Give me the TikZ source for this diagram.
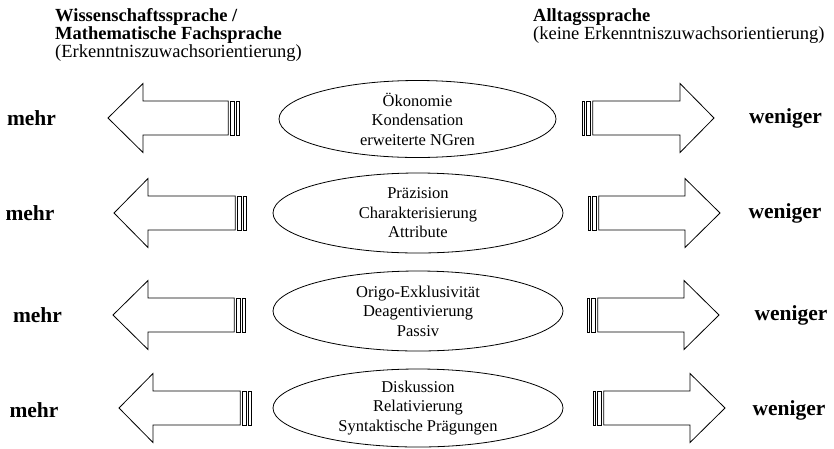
\documentclass[tikz,border=0pt]{standalone}
\usepackage{fontspec}
\setmainfont{Liberation Serif}
\usetikzlibrary{shapes.geometric}

\tikzset{
  arrowline/.style={draw=black, line width=0.8pt, fill=white, line join=miter},
  topic/.style={ellipse, draw=black, line width=0.8pt, inner sep=0pt, align=center,
    font=\fontsize{16.5}{19.5}\selectfont},
  head/.style={anchor=base west, inner sep=0pt, font=\fontsize{18.5}{18.5}\selectfont},
  headbold/.style={head, font=\fontsize{18.5}{18.5}\selectfont\bfseries},
  degree/.style={inner sep=0pt, font=\fontsize{21.5}{21.5}\selectfont\bfseries},
}

% striped block arrow: tail x, head base x, tip x, centre y
\newcommand{\stripedarrow}[4]{%
  \pgfmathsetmacro{\sgn}{sign(#3-#1)}%
  \draw[arrowline] (#1,#4-17) rectangle ({#1+\sgn*2.2},#4+17);
  \draw[arrowline] ({#1+\sgn*4.3},#4-17) rectangle ({#1+\sgn*8.6},#4+17);
  \draw[arrowline] ({#1+\sgn*10.8},#4-17) -- (#2,#4-17) -- (#2,#4-34.5)
    -- (#3,#4) -- (#2,#4+34.5) -- (#2,#4+17) -- ({#1+\sgn*10.8},#4+17) -- cycle;
}

\begin{document}
\begin{tikzpicture}[x=1pt, y=-1pt]
\useasboundingbox (0,0) rectangle (834,448);

% column headings
\node[headbold] (sci1) at (55,21) {Wissenschaftssprache /};
\node[headbold] (sci2) at (55,39.5) {Mathematische Fachsprache};
\node[head]     (sci3) at (55,57.5) {(Erkenntniszuwachsorientierung)};
\node[headbold] (ev1) at (533,21) {Alltagssprache};
\node[head]     (ev2) at (533,39.5) {(keine Erkenntniszuwachsorientierung)};

% row 1
\node[degree] (m1) at (31.5,118) {mehr};
\stripedarrow{239}{143}{108}{118}
\node[topic, minimum width=277, minimum height=77] (e1) at (417.5,119)
  {Ökonomie\\Kondensation\\erweiterte NGren};
\stripedarrow{582}{680}{714}{118}
\node[degree] (w1) at (785.5,118) {weniger};

% row 2
\node[degree] (m2) at (30,213) {mehr};
\stripedarrow{246}{148}{114}{213}
\node[topic, minimum width=290, minimum height=80] (e2) at (418,213)
  {Präzision\\Charakterisierung\\Attribute};
\stripedarrow{588}{685}{720}{213}
\node[degree] (w2) at (785,213) {weniger};

% row 3
\node[degree] (m3) at (37.5,315) {mehr};
\stripedarrow{245}{148}{113}{315}
\node[topic, minimum width=290, minimum height=80] (e3) at (418,311)
  {Origo-Exklusivität\\Deagentivierung\\Passiv};
\stripedarrow{587}{684}{719}{315}
\node[degree] (w3) at (791,315) {weniger};

% row 4
\node[degree] (m4) at (34,410) {mehr};
\stripedarrow{251}{153}{119}{408}
\node[topic, minimum width=290, minimum height=78] (e4) at (418,408)
  {Diskussion\\Relativierung\\Syntaktische Prägungen};
\stripedarrow{593}{690}{725}{408}
\node[degree] (w4) at (789,410) {weniger};
\end{tikzpicture}
\end{document}
